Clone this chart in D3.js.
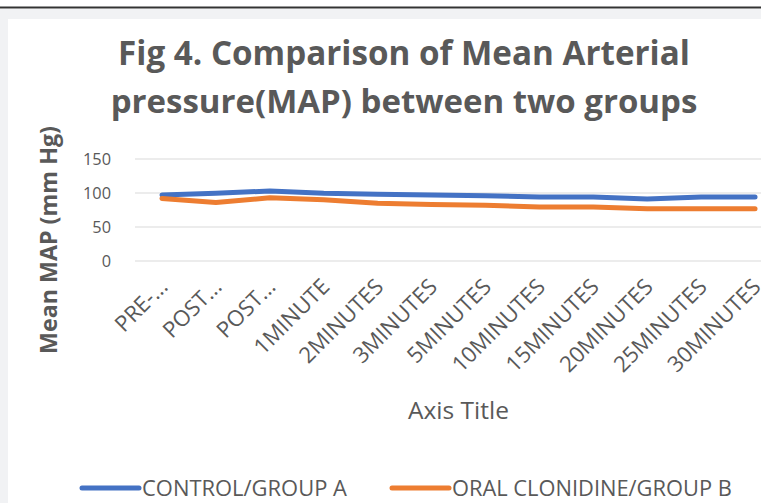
<!DOCTYPE html>
<html>
<head>
<meta charset="utf-8">
<script src="https://cdn.jsdelivr.net/npm/d3@7"></script>
<style>
  body { margin: 0; background: #fff; }
  text { font-family: "Open Sans", Lato, sans-serif; fill: #595959; }
</style>
</head>
<body>
<div id="chart"></div>
<script>
// Chart data
var categories = ["PRE-...", "POST...", "POST...", "1MINUTE", "2MINUTES", "3MINUTES",
  "5MINUTES", "10MINUTES", "15MINUTES", "20MINUTES", "25MINUTES", "30MINUTES"];
var controlA = [97, 99.5, 103, 99.5, 98, 97, 96, 94, 94, 91, 94, 94];
var clonidineB = [92, 86, 93, 90, 85, 83, 82, 79.5, 79.5, 77, 77, 77];
var yTicks = [0, 50, 100, 150];
var seriesNames = ["CONTROL/GROUP A", "ORAL CLONIDINE/GROUP B"];
var seriesColors = ["#4472C4", "#ED7D31"];

var svgWidth = 761;
var svgHeight = 503;

// scale a text's font size so it spans the wanted width
function fitText(sel, width) {
  sel.style("font-size", "100px");
  var w = sel.node().getComputedTextLength();
  sel.style("font-size", (100 * width / w) + "px");
}

var svg = d3.select("#chart")
  .append("svg")
  .attr("width", svgWidth)
  .attr("height", svgHeight);

// page frame
svg.append("rect").attr("width", svgWidth).attr("height", svgHeight).attr("fill", "#fff");
svg.append("rect").attr("y", 9).attr("width", svgWidth).attr("height", svgHeight).attr("fill", "#f1f2f4");
svg.append("line").attr("x1", 0).attr("x2", svgWidth).attr("y1", 7.5).attr("y2", 7.5)
  .attr("stroke", "#333").attr("stroke-width", 2);
svg.append("rect").attr("x", 8).attr("y", 19).attr("width", 800).attr("height", 500).attr("fill", "#fff");

// plot area (right part is cut off in the original)
var plot = { left: 135, right: 782, top: 159, bottom: 261 };

var xScale = d3.scaleBand()
  .domain(d3.range(categories.length))
  .range([plot.left, plot.right]);

var yScale = d3.scaleLinear()
  .domain([0, 150])
  .range([plot.bottom, plot.top]);

// gridlines
svg.append("g")
  .selectAll("line")
  .data(yTicks)
  .enter()
  .append("line")
  .attr("x1", plot.left)
  .attr("x2", plot.right)
  .attr("y1", d => yScale(d))
  .attr("y2", d => yScale(d))
  .attr("stroke", "#d9d9d9")
  .attr("stroke-width", 1);

// y axis labels
var yAxis = svg.append("g")
  .attr("transform", `translate(${plot.left}, 0)`)
  .call(d3.axisLeft(yScale).tickValues(yTicks).tickSize(0).tickPadding(24));
yAxis.select(".domain").remove();
var yLabels = yAxis.selectAll("text")
  .style("font-family", "'Open Sans', sans-serif")
  .attr("fill", "#595959");
fitText(yLabels.filter(d => d === 150), 28);
yLabels.style("font-size", yLabels.filter(d => d === 150).style("font-size"));

// x axis labels, rotated
var xAxis = svg.append("g")
  .attr("transform", `translate(0, ${plot.bottom})`)
  .call(d3.axisBottom(xScale).tickFormat(i => categories[i]).tickSize(0));
xAxis.select(".domain").remove();
var xLabels = xAxis.selectAll("text")
  .style("font-family", "'Open Sans', sans-serif")
  .attr("fill", "#595959")
  .attr("text-anchor", "end")
  .attr("dy", 0)
  .attr("transform", "translate(5, 25) rotate(-45)");
fitText(xLabels.filter((d, i) => i === 3), 96);
xLabels.style("font-size", xLabels.filter((d, i) => i === 3).style("font-size"));

// lines
var lineGen = d3.line()
  .x((d, i) => xScale(i) + xScale.bandwidth() / 2)
  .y(d => yScale(d));

[controlA, clonidineB].forEach(function(series, k) {
  svg.append("path")
    .datum(series)
    .attr("d", lineGen)
    .attr("fill", "none")
    .attr("stroke", seriesColors[k])
    .attr("stroke-width", 5)
    .attr("stroke-linecap", "round")
    .attr("stroke-linejoin", "round");
});

// title
var t1 = svg.append("text")
  .attr("x", 404).attr("y", 65)
  .attr("text-anchor", "middle")
  .style("font-weight", "bold")
  .text("Fig 4. Comparison of Mean Arterial");
fitText(t1, 572);
var t2 = svg.append("text")
  .attr("x", 404).attr("y", 113)
  .attr("text-anchor", "middle")
  .style("font-weight", "bold")
  .text("pressure(MAP) between two groups");
fitText(t2, 587);

// y axis title
var yTitle = svg.append("text")
  .attr("transform", "translate(57, 240) rotate(-90)")
  .attr("text-anchor", "middle")
  .style("font-weight", "bold")
  .text("Mean MAP (mm Hg)");
fitText(yTitle, 228);

// x axis title
var xTitle = svg.append("text")
  .attr("x", (plot.left + plot.right) / 2)
  .attr("y", 419)
  .attr("text-anchor", "middle")
  .text("Axis Title");
fitText(xTitle, 101);

// legend
var legendX = [82, 392];
var legendW = [205, 280];
var legend = svg.append("g");
seriesNames.forEach(function(name, k) {
  legend.append("line")
    .attr("x1", legendX[k]).attr("x2", legendX[k] + 57)
    .attr("y1", 488).attr("y2", 488)
    .attr("stroke", seriesColors[k])
    .attr("stroke-width", 5)
    .attr("stroke-linecap", "round");
  var lt = legend.append("text")
    .attr("x", legendX[k] + 60)
    .attr("y", 496)
    .text(name);
  fitText(lt, legendW[k]);
});
</script>
</body>
</html>
